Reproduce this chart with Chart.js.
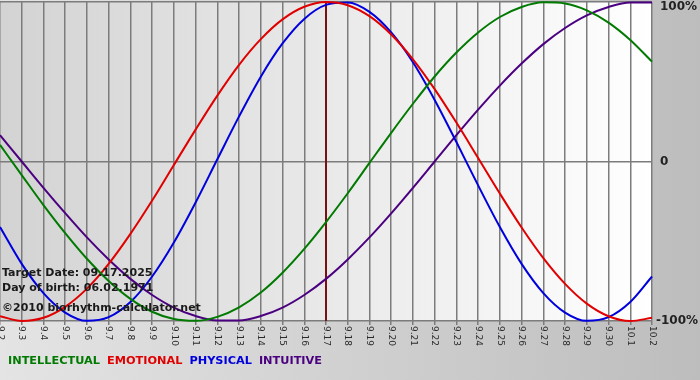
<!DOCTYPE html>
<html>
<head>
<meta charset="utf-8">
<script src="https://cdn.jsdelivr.net/npm/chart.js@4.4.1/dist/chart.umd.min.js"></script>
<style>
  html, body { margin: 0; padding: 0; background: #d0d0d0; }
  canvas { display: block; }
</style>
</head>
<body>
<canvas id="bioChart" width="700" height="380"></canvas>
<script>
// days shown on the x axis
const days = ['9.2','9.3','9.4','9.5','9.6','9.7','9.8','9.9','9.10','9.11','9.12','9.13','9.14','9.15','9.16',
  '9.17','9.18','9.19','9.20','9.21','9.22','9.23','9.24','9.25','9.26','9.27','9.28','9.29','9.30','10.1','10.2']

// cycle values in percent
const intellectual = [10.4, -8.5, -27.3, -44.9, -61.0, -74.9, -86.1, -94.2, -98.8, -99.9, -97.4, -91.4, -82.1,
  -69.7, -54.8, -38.0, -19.9, -0.9, 18.0, 36.2, 53.3, 68.3, 80.9, 90.6, 96.9, 99.8, 99.1, 94.8, 87.1, 76.2, 62.6]
const emotional = [-97.0, -100.0, -98.0, -91.1, -79.7, -64.2, -45.4, -24.5, -2.2, 20.0, 41.3, 60.6, 76.7,
  89.1, 97.0, 100.0, 98.0, 91.1, 79.6, 64.1, 45.4, 24.4, 2.2, -20.1, -41.4, -60.6, -76.7, -89.1, -97.0, -100.0, -98.0]
const physical = [-41.1, -64.2, -82.5, -94.7, -99.9, -97.6, -88.1, -72.1, -50.8, -25.7, 1.4, 28.3, 53.2,
  74.0, 89.4, 98.2, 99.7, 93.8, 80.9, 62.2, 38.6, 12.2, -15.0, -41.1, -64.2, -82.5, -94.7, -99.9, -97.6, -88.1, -72.1]
const intuitive = [16.5, 0, -16.5, -32.4, -47.6, -61.4, -73.6, -83.7, -91.6, -96.9, -99.7, -99.7, -96.9,
  -91.6, -83.7, -73.6, -61.4, -47.6, -32.5, -16.5, 0, 16.5, 32.5, 47.6, 61.4, 73.6, 83.7, 91.6, 96.9, 99.7, 99.7]

const yTicks = [100, 0, -100]
const targetDay = '9.17'
const targetDate = '09.17.2025'
const birthDate = '06.02.1971'
const copyright = '\u00a92010 biorhythm-calculator.net'

const bgPlugin = {
  id: 'bioBackground',
  beforeDraw(chart) {
    const {ctx, chartArea: a, width, height} = chart
    ctx.save()
    let g = ctx.createLinearGradient(0, 0, width, 0)
    g.addColorStop(0, '#e4e4e4')
    g.addColorStop(1, '#bdbdbd')
    ctx.fillStyle = g
    ctx.fillRect(0, 0, width, height)
    g = ctx.createLinearGradient(a.left, 0, a.right, 0)
    g.addColorStop(0, '#d3d3d3')
    g.addColorStop(1, '#ffffff')
    ctx.fillStyle = g
    ctx.fillRect(a.left, a.top, a.right - a.left, a.bottom - a.top)
    ctx.restore()
  },
  beforeDatasetsDraw(chart) {
    // target day marker
    const {ctx, chartArea: a, scales} = chart
    const x = scales.x.getPixelForValue(days.indexOf(targetDay))
    ctx.save()
    ctx.strokeStyle = '#7a1010'
    ctx.lineWidth = 2
    ctx.beginPath()
    ctx.moveTo(x, a.top)
    ctx.lineTo(x, a.bottom)
    ctx.stroke()
    ctx.restore()
  },
  afterDraw(chart) {
    const {ctx, chartArea: a, scales} = chart
    ctx.save()

    // x labels, turned clockwise
    ctx.font = '9px "DejaVu Sans"'
    ctx.fillStyle = '#2a2a2a'
    ctx.textAlign = 'left'
    ctx.textBaseline = 'middle'
    days.forEach((d, i) => {
      const x = scales.x.getPixelForTick(i)
      ctx.save()
      ctx.translate(x, a.bottom + 5)
      ctx.rotate(Math.PI / 2)
      ctx.fillText(d, 0, 0)
      ctx.restore()
    })

    // y labels on the right
    ctx.font = 'bold 12px "DejaVu Sans"'
    ctx.fillStyle = '#222'
    yTicks.forEach(v => {
      let y = scales.y.getPixelForValue(v)
      y = Math.max(y, a.top + 5)
      const txt = v === 0 ? '0' : v + '%'
      ctx.fillText(txt, a.right + (v < 0 ? 4 : 8), y)
    })

    // info text
    ctx.font = 'bold 11px "DejaVu Sans"'
    ctx.fillStyle = '#1a1a1a'
    ctx.textBaseline = 'alphabetic'
    ctx.fillText('Target Date: ' + targetDate, 2, 276)
    ctx.fillText('Day of birth: ' + birthDate, 2, 291)
    ctx.fillText(copyright, 2, 311)

    // legend
    ctx.font = 'bold 11.3px "DejaVu Sans"'
    ctx.textBaseline = 'middle'
    let lx = 8
    chart.data.datasets.forEach(ds => {
      ctx.fillStyle = ds.borderColor
      ctx.fillText(ds.label, lx, 361)
      lx += ctx.measureText(ds.label).width + 7
    })
    ctx.restore()
  }
}

const ctx = document.getElementById('bioChart')
new Chart(ctx, {
  type: 'line',
  data: {
    labels: days,
    datasets: [
      {label: 'INTELLECTUAL', data: intellectual, borderColor: '#007a00'},
      {label: 'EMOTIONAL', data: emotional, borderColor: '#e00000'},
      {label: 'PHYSICAL', data: physical, borderColor: '#0000dd'},
      {label: 'INTUITIVE', data: intuitive, borderColor: '#4b0080'}
    ]
  },
  options: {
    responsive: false,
    devicePixelRatio: 1,
    animation: false,
    layout: {padding: {top: 2, right: 48, bottom: 55, left: 0}},
    elements: {
      point: {radius: 0},
      line: {borderWidth: 2, cubicInterpolationMode: 'monotone', fill: false}
    },
    datasets: {line: {clip: false}},
    plugins: {
      legend: {display: false},
      tooltip: {enabled: false}
    },
    scales: {
      x: {
        offset: false,
        ticks: {display: false},
        grid: {color: '#7c7c7c', lineWidth: 1.5, drawTicks: true, tickLength: 4, offset: false},
        border: {display: false}
      },
      y: {
        min: -100,
        max: 100,
        ticks: {display: false, stepSize: 100},
        grid: {color: '#7c7c7c', lineWidth: 1.5, drawTicks: false},
        border: {display: false}
      }
    }
  },
  plugins: [bgPlugin]
})
</script>
</body>
</html>
